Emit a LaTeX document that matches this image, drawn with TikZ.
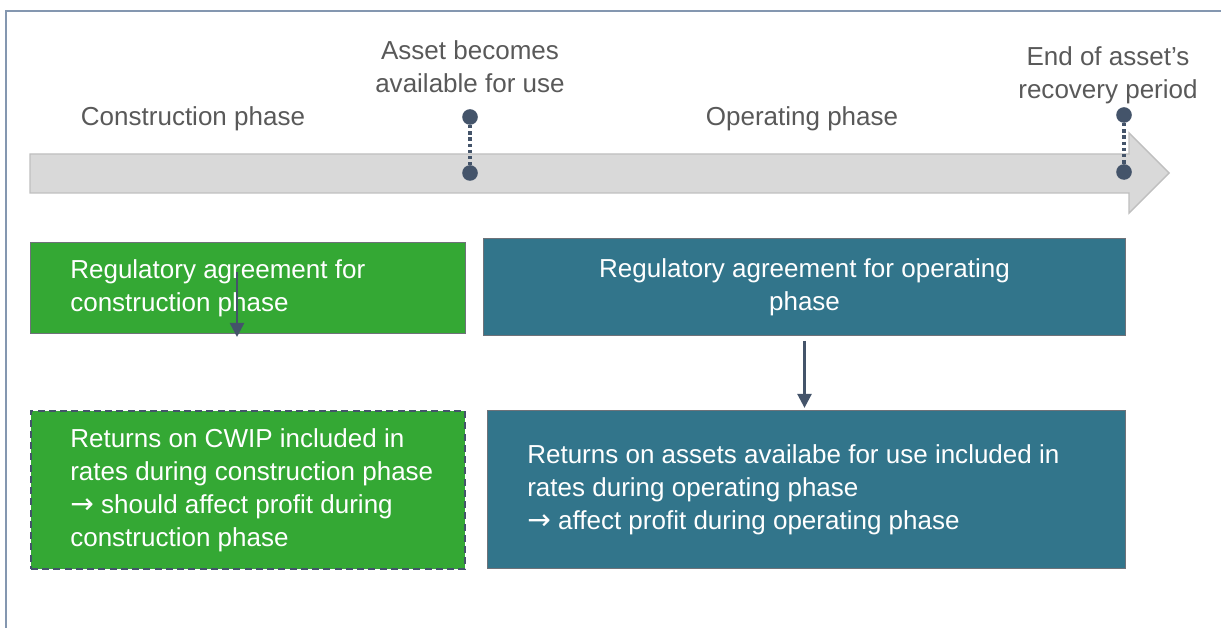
\documentclass[tikz,border=0pt]{standalone}
\usepackage{fontspec}
\setmainfont{Liberation Sans}
\newfontfamily\arrowfont{DejaVu Sans}
\usepackage{tikz}
\usetikzlibrary{positioning,arrows.meta,calc}

\definecolor{phasegreen}{RGB}{52,168,52}
\definecolor{phaseteal}{RGB}{50,117,139}
\definecolor{slate}{RGB}{68,84,106}
\definecolor{labelgray}{RGB}{89,89,89}
\definecolor{framegray}{RGB}{132,151,176}
\definecolor{barfill}{RGB}{217,217,217}
\definecolor{baredge}{RGB}{191,191,191}

\newcommand{\phasefont}{\fontsize{18.5pt}{23.5pt}\selectfont}
\newcommand{\thenarrow}{{\arrowfont\fontsize{20pt}{23.5pt}\selectfont →}}

\begin{document}
\begin{tikzpicture}[
      x=0.025cm, y=-0.025cm,
      >={Triangle[length=10pt,width=10pt]},
      phaselabel/.style={font=\phasefont, text=labelgray, inner sep=0pt, align=center},
      milestone/.style={circle, fill=slate, minimum size=0.39cm, inner sep=0pt},
      milestoneline/.style={slate, line width=2.3pt, dash pattern=on 2.4pt off 2pt},
      phasebox/.style={rectangle, anchor=north west, inner sep=0pt, draw=gray!70!slate, line width=0.6pt},
      greenbox/.style={phasebox, fill=phasegreen},
      tealbox/.style={phasebox, fill=phaseteal},
      boxtext/.style={font=\phasefont, text=white, inner sep=0pt, align=left},
      flow/.style={->, slate, line width=1.8pt},
    ]
    \useasboundingbox (0,0) rectangle (1221,628);

    % Frame
    \draw[framegray, line width=1.4pt] (6,628) -- (6,11) -- (1221,11);

    % Timeline bar
    \draw[baredge, fill=barfill, line width=1pt]
      (30,154) -- (1129,154) -- (1129,133) -- (1169,173)
      -- (1129,213) -- (1129,193) -- (30,193) -- cycle;

    % Phase names
    \node[phaselabel, anchor=base] (conPhase) at (193,126) {Construction phase};
    \node[phaselabel, anchor=base] (opPhase) at (802,126) {Operating phase};

    % Milestones
    \node[milestone] (availTop) at (470,117) {};
    \node[milestone] (availBot) at (470,173) {};
    \node[milestone] (endTop) at (1124,115) {};
    \node[milestone] (endBot) at (1124,172) {};
    \draw[milestoneline] (availTop) -- (availBot);
    \draw[milestoneline] (endTop) -- (endBot);
    \node[phaselabel] (availText) at (470,67) {Asset becomes\\available for use};
    \node[phaselabel] (endText) at (1108,75) {End of asset’s\\recovery period};

    % Regulatory agreements
    \node[greenbox, minimum width=10.875cm, minimum height=2.275cm] (conAgree) at (30,242) {};
    \node[tealbox, minimum width=16.05cm, minimum height=2.425cm,
          font=\phasefont, text=white, align=center] (opAgree) at (483,238)
          {Regulatory agreement for operating\\phase};

    % Returns
    \node[greenbox, draw=slate, line width=1.3pt, dash pattern=on 5pt off 3pt,
          minimum width=10.85cm, minimum height=3.95cm] (conReturn) at (30,410) {};
    \node[tealbox, minimum width=15.95cm, minimum height=3.95cm] (opReturn) at (487,410) {};

    \node[boxtext, right=1cm of conAgree.west] (conAgreeText)
      {Regulatory agreement for\\construction phase};
    \node[boxtext, right=1cm of conReturn.west] (conReturnText)
      {Returns on CWIP included in\\rates during construction phase\\\thenarrow{} should affect profit during\\construction phase};
    \node[boxtext, right=1cm of opReturn.west] (opReturnText)
      {Returns on assets availabe for use included in\\rates during operating phase\\\thenarrow{} affect profit during operating phase};

    % Arrows
    \coordinate (conFrom) at (237,272);
    \coordinate (conTo) at (237,337);
    \draw[flow] (conFrom) -- (conTo);
    \draw[flow, shorten <=3.5pt, shorten >=1.5pt] (opAgree.south) -- (opAgree.south |- opReturn.north);
  \end{tikzpicture}
\end{document}
